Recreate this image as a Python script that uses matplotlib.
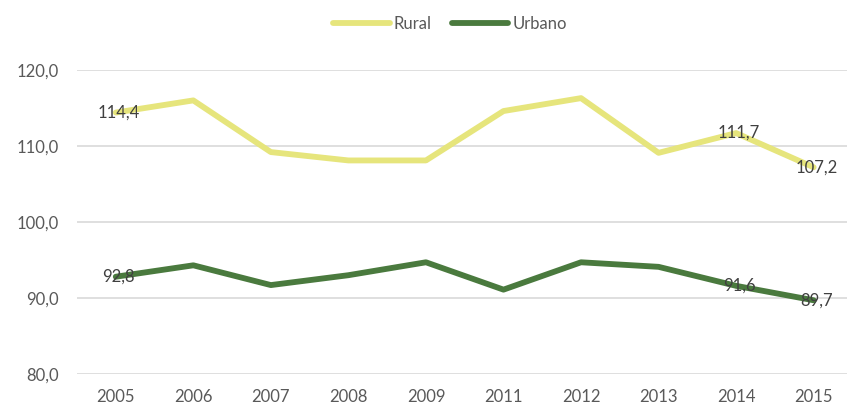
import matplotlib
matplotlib.use("Agg")
import matplotlib.pyplot as plt

plt.rcParams["font.family"] = ["Lato", "DejaVu Sans"]

# Data
years = ["2005", "2006", "2007", "2008", "2009", "2011", "2012", "2013", "2014", "2015"]
rural = [114.4, 116.0, 109.2, 108.1, 108.1, 114.6, 116.3, 109.1, 111.7, 107.2]
urbano = [92.8, 94.3, 91.7, 93.0, 94.7, 91.1, 94.7, 94.1, 91.6, 89.7]
rural_labels = {0: "114,4", 8: "111,7", 9: "107,2"}
urbano_labels = {0: "92,8", 8: "91,6", 9: "89,7"}
yticks = [80, 90, 100, 110, 120]

c_rural = "#e6e57c"
c_urbano = "#4a7a3e"

fig = plt.figure(figsize=(8.47, 4.04), dpi=100)
ax = fig.add_axes([77 / 847, 30 / 404, 770 / 847, 304 / 404])

x = list(range(len(years)))
ax.plot(x, rural, color=c_rural, lw=4.2, solid_capstyle="round", label="Rural", zorder=3)
ax.plot(x, urbano, color=c_urbano, lw=4.2, solid_capstyle="round", label="Urbano", zorder=3)

# data labels (centered on points)
for i, txt in rural_labels.items():
    ax.text(x[i] + 0.04, rural[i], txt, ha="center", va="center", fontsize=12, color="#404040", zorder=4)
for i, txt in urbano_labels.items():
    ax.text(x[i] + 0.04, urbano[i], txt, ha="center", va="center", fontsize=12, color="#404040", zorder=4)

ax.set_xlim(-0.5, 9.43)
ax.set_ylim(80, 120)
ax.set_xticks(x)
ax.set_xticklabels(years)
ax.set_yticks(yticks)
ax.set_yticklabels([f"{v:.1f}".replace(".", ",") for v in yticks])
ax.tick_params(axis="both", length=0, labelsize=12, labelcolor="#595959")
ax.tick_params(axis="y", pad=13)
ax.tick_params(axis="x", pad=11)

ax.grid(axis="y", color="#d9d9d9", lw=1.2)
ax.set_axisbelow(True)
for s in ax.spines.values():
    s.set_visible(False)

ax.legend(loc="upper center", bbox_to_anchor=(0.5 - 12 / 770, 1 + 69 / 304), ncol=2, frameon=False,
          fontsize=12, labelcolor="#595959", handlelength=3.4, handletextpad=0.25, columnspacing=1.2)

fig.savefig("out.png", dpi=100)
